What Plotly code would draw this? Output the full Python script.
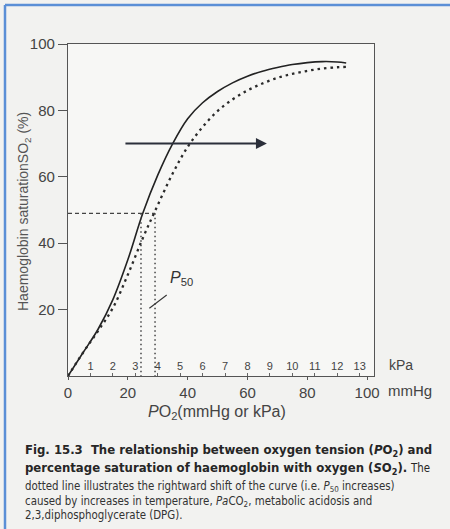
import plotly.graph_objects as go

# ---- data ----
po2_normal = [0, 5, 10, 15, 20, 25, 30, 35, 40, 45, 50, 55, 60, 65, 70, 75, 80, 85, 90, 93]
so2_normal = [0, 7, 14, 23, 35, 49, 60.5, 70, 77.5, 82.3, 85.7, 88.3, 90.3, 91.8, 92.9, 93.8, 94.4, 94.7, 94.6, 94.3]

po2_shifted = [0, 5, 10, 15, 20, 25, 29, 35, 40, 45, 50, 55, 60, 65, 70, 75, 80, 85, 90, 93]
so2_shifted = [0, 7, 13.5, 20.5, 30.5, 41.5, 49.5, 61, 69, 75, 79.8, 83.3, 86, 88.1, 89.8, 91, 91.9, 92.6, 93, 93.1]

p50_values = [24.4, 29.1]      # mmHg
s50 = 49                       # %
arrow_start, arrow_end, arrow_level = 18.7, 66.5, 70
leader_x = [27.2, 33.0]
leader_y = [20.4, 24.4]

mmhg_ticks = [0, 20, 40, 60, 80, 100]
kpa_ticks = list(range(1, 14))
sat_ticks = [0, 20, 40, 60, 80, 100]
KPA_PER_MMHG = 1 / 7.50062

W, H = 450, 529
X_MAX = 102.3


def px(x):
    return x / W


def py(y):
    return 1 - y / H


fig = go.Figure()

fig.add_trace(go.Scatter(x=po2_normal, y=so2_normal, mode="lines",
                         line=dict(color="#222222", width=1.6, shape="spline", smoothing=1),
                         hoverinfo="skip", showlegend=False))
fig.add_trace(go.Scatter(x=po2_shifted, y=so2_shifted, mode="lines",
                         line=dict(color="#2a2a2a", width=2.3, dash="2.5px,4px", shape="spline", smoothing=1),
                         hoverinfo="skip", showlegend=False))
# P50 guide lines
fig.add_trace(go.Scatter(x=[0, p50_values[1]], y=[s50, s50], mode="lines",
                         line=dict(color="#444444", width=1.2, dash="4px,3px"),
                         hoverinfo="skip", showlegend=False))
for p in p50_values:
    fig.add_trace(go.Scatter(x=[p, p], y=[s50, 0], mode="lines",
                             line=dict(color="#444444", width=1.5, dash="1.5px,3px"),
                             hoverinfo="skip", showlegend=False))
# leader to P50 label
fig.add_trace(go.Scatter(x=leader_x, y=leader_y, mode="lines",
                         line=dict(color="#333333", width=1.1),
                         hoverinfo="skip", showlegend=False))
# dummy trace for the kPa axis
fig.add_trace(go.Scatter(x=kpa_ticks, y=[None] * len(kpa_ticks), xaxis="x2", mode="lines",
                         hoverinfo="skip", showlegend=False))

fig.add_annotation(x=arrow_end, y=arrow_level, ax=arrow_start, ay=arrow_level,
                   xref="x", yref="y", axref="x", ayref="y", text="",
                   showarrow=True, arrowhead=2, arrowsize=1.1, arrowwidth=2, arrowcolor="#2b2f3a")

fig.add_annotation(x=33.4, y=29.5, xref="x", yref="y", xanchor="left", yanchor="middle",
                   text="<i>P</i><sub>50</sub>", showarrow=False,
                   font=dict(family="Liberation Sans", size=16, color="#333333"))

# unit labels at right
fig.add_annotation(x=px(387), y=py(365), xref="paper", yref="paper", xanchor="left", yanchor="middle",
                   text="kPa", showarrow=False, font=dict(family="Liberation Sans", size=14, color="#444444"))
fig.add_annotation(x=px(386), y=py(390), xref="paper", yref="paper", xanchor="left", yanchor="middle",
                   text="mmHg", showarrow=False, font=dict(family="Liberation Sans", size=15, color="#444444"))

# axis titles
fig.add_annotation(x=px(217), y=py(412), xref="paper", yref="paper", xanchor="center", yanchor="middle",
                   text="<i>P</i>O<sub>2</sub>(mmHg or kPa)", showarrow=False,
                   font=dict(family="Liberation Sans", size=16, color="#444444"))
fig.add_annotation(x=px(24), y=py(212), xref="paper", yref="paper", xanchor="center", yanchor="middle",
                   text="Haemoglobin saturationSO<sub>2</sub> (%)", textangle=-90, showarrow=False,
                   font=dict(family="Liberation Sans", size=14, color="#555555"))

# caption
cap_font_b = dict(family="DejaVu Sans Condensed", size=13, color="#262626")
cap_font = dict(family="DejaVu Sans Condensed", size=11.4, color="#333333")
fig.add_annotation(x=px(23), y=py(450), xref="paper", yref="paper", xanchor="left", yanchor="middle",
                   text="<b>Fig. 15.3  The relationship between oxygen tension (<i>P</i>O<sub>2</sub>) and</b>",
                   showarrow=False, font=cap_font_b)
fig.add_annotation(x=px(23), y=py(468), xref="paper", yref="paper", xanchor="left", yanchor="middle",
                   text="<b>percentage saturation of haemoglobin with oxygen (<i>S</i>O<sub>2</sub>).</b> <span style='font-size:11.4px'>The</span>",
                   showarrow=False, font=cap_font_b)
fig.add_annotation(x=px(23), y=py(486), xref="paper", yref="paper", xanchor="left", yanchor="middle",
                   text="dotted line illustrates the rightward shift of the curve (i.e. <i>P</i><sub>50</sub> increases)",
                   showarrow=False, font=cap_font)
fig.add_annotation(x=px(23), y=py(501), xref="paper", yref="paper", xanchor="left", yanchor="middle",
                   text="caused by increases in temperature, <i>Pa</i>CO<sub>2</sub>, metabolic acidosis and",
                   showarrow=False, font=cap_font)
fig.add_annotation(x=px(23), y=py(515), xref="paper", yref="paper", xanchor="left", yanchor="middle",
                   text="2,3,diphosphoglycerate (DPG).",
                   showarrow=False, font=cap_font)

# blue frame of the scanned picture (left and top edges)
frame = dict(color="#5b8fd6", width=2.5)
fig.add_shape(type="line", xref="paper", yref="paper", x0=px(5), x1=px(5), y0=py(5), y1=py(529),
              line=frame, layer="above")
fig.add_shape(type="line", xref="paper", yref="paper", x0=px(5), x1=px(450), y0=py(5), y1=py(5),
              line=frame, layer="above")

tick_font = dict(family="Liberation Sans", size=15, color="#444444")
fig.update_layout(
    width=W, height=H,
    margin=dict(l=0, r=0, t=0, b=0),
    paper_bgcolor="#f2f2f0",
    plot_bgcolor="#f7f7f5",
    xaxis=dict(domain=[px(68), px(374)], range=[0, X_MAX], tickvals=mmhg_ticks,
               ticks="outside", ticklen=3, tickcolor="#555555", tickwidth=1,
               showline=True, linecolor="#555555", linewidth=1.3, mirror=True,
               showgrid=False, zeroline=False, tickfont=tick_font, automargin=False,
               fixedrange=True),
    xaxis2=dict(overlaying="x", anchor="y", side="bottom",
                range=[0, X_MAX * KPA_PER_MMHG], tickvals=kpa_ticks,
                ticks="inside", ticklen=3, tickcolor="#666666", ticklabelposition="inside",
                showline=False, showgrid=False, zeroline=False,
                tickfont=dict(family="Liberation Sans", size=11, color="#444444"),
                automargin=False, fixedrange=True),
    yaxis=dict(domain=[py(376), py(44)], range=[0, 100], tickvals=sat_ticks,
               ticks="outside", ticklen=9, tickcolor="#555555", tickwidth=1,
               showline=True, linecolor="#555555", linewidth=1.3, mirror=True,
               showgrid=False, zeroline=False, tickfont=tick_font, automargin=False,
               fixedrange=True),
)

fig.write_html("out.html", config={"displayModeBar": False},
               post_script="document.body.style.margin='0';document.body.style.overflow='hidden';"
                           "document.documentElement.style.overflow='hidden';")
